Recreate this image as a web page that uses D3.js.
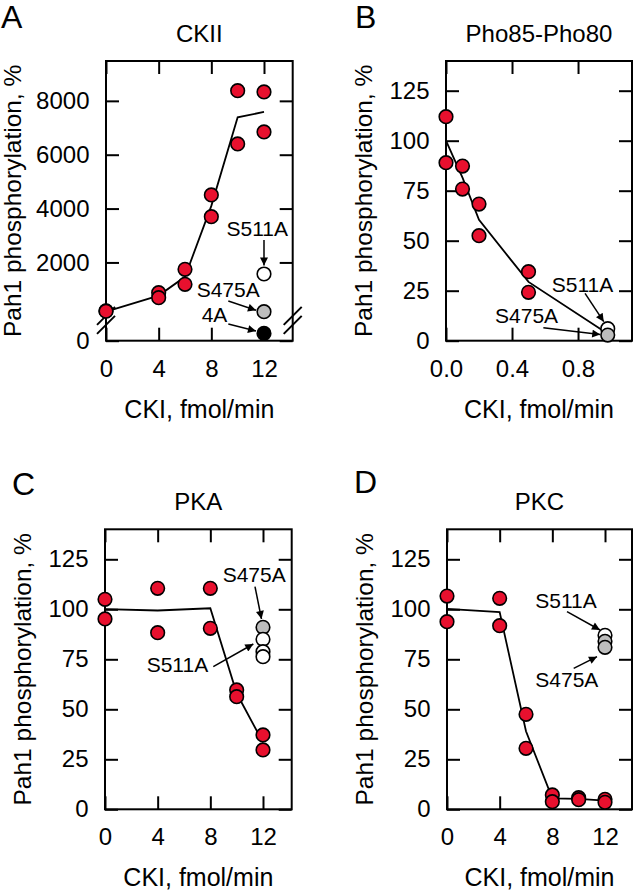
<!DOCTYPE html>
<html><head><meta charset="utf-8">
<script src="https://cdn.jsdelivr.net/npm/d3@7"></script>
<style>
html,body{margin:0;padding:0;background:#fff;}
svg text{font-family:"Liberation Sans",Arial,Helvetica,sans-serif;fill:#000;}
</style></head>
<body>
<svg id="chart" width="634" height="890"></svg>
<script>
// ---------------- data ----------------
const doseTicks = [0, 4, 8, 12];
const pctTicks = [0, 25, 50, 75, 100, 125];
const ckiiTicks = [0, 2000, 4000, 6000, 8000];
const phoTicks = [0.0, 0.4, 0.8];

// Panel A: CKII
const aDose = [0, 0, 4, 4, 6, 6, 8, 8, 10, 10, 12, 12];
const aWT = [200, 190, 876, 690, 1745, 1188, 4505, 3699, 8379, 6400, 8331, 6845];
const aLineDose = [0, 4, 6, 8, 10, 12];
const aLineVal = [175, 770, 1466, 4100, 7390, 7588];
const aMutDose = [12, 12, 12];
const aMutVal = [1571, 170, 27];
const aMutFill = ["#ffffff", "#bdbdbd", "#000000"];

// Panel B: Pho85-Pho80
const bDose = [0, 0, 0.1, 0.1, 0.2, 0.2, 0.5, 0.5];
const bWT = [112, 89, 87.3, 75.8, 68.3, 52.5, 34.5, 24.2];
const bLineDose = [0, 0.1, 0.2, 0.5, 0.98];
const bLineVal = [100, 81.5, 60.4, 29.4, 3.5];
const bMutDose = [0.98, 0.98];
const bMutVal = [6, 2.8];
const bMutFill = ["#ffffff", "#bdbdbd"];

// Panel C: PKA
const cDose = [0, 0, 4, 4, 8, 8, 10, 10, 12, 12];
const cWT = [105, 95.2, 110.5, 88.3, 110.5, 90.5, 59.7, 56.3, 37.2, 29.7];
const cLineDose = [0, 4, 8, 10, 12];
const cLineVal = [100.1, 99.4, 100.5, 58, 33.5];
const cMutDose = [12, 12, 12, 12];
const cMutVal = [91, 85, 78.8, 76.3];
const cMutFill = ["#bdbdbd", "#ffffff", "#ffffff", "#ffffff"];

// Panel D: PKC
const dDose = [0, 0, 4, 4, 6, 6, 8, 8, 10, 10, 12, 12];
const dWT = [106.6, 93.8, 105.5, 91.8, 47.5, 30.5, 7.2, 3.8, 5.8, 4.8, 5, 3.5];
const dLineDose = [0, 4, 6, 8, 10, 12];
const dLineVal = [100.2, 98.6, 39, 5.5, 5.2, 4.3];
const dMutDose = [12, 12, 12];
const dMutVal = [87, 84, 81];
const dMutFill = ["#ffffff", "#bdbdbd", "#bdbdbd"];

const RED = "#e8102e";

// ---------------- drawing ----------------
const svg = d3.select("#chart");
svg.append("rect").attr("width", 634).attr("height", 890).attr("fill", "#fff");
const defs = svg.append("defs");
defs.append("marker").attr("id", "ah").attr("viewBox", "0 0 10 10")
  .attr("refX", 10).attr("refY", 5).attr("markerWidth", 10).attr("markerHeight", 8)
  .attr("markerUnits", "userSpaceOnUse").attr("orient", "auto")
  .append("path").attr("d", "M0,0 L10,5 L0,10 z").attr("fill", "#000");

function panel(o) {
  const g = svg.append("g");
  const x = d3.scaleLinear().domain(o.xDomain).range([o.left, o.right]);
  const y = o.y;
  const T = 13;
  const fmtX = o.xFmt || (d => d);
  const ax = g.append("g").attr("transform", `translate(0,${o.bottom})`)
    .call(d3.axisBottom(x).tickValues(o.xTicks).tickSize(-T).tickSizeOuter(0).tickPadding(19).tickFormat(fmtX));
  const axT = g.append("g").attr("transform", `translate(0,${o.top})`)
    .call(d3.axisTop(x).tickValues(o.xTicks).tickSize(-T).tickSizeOuter(0).tickFormat(""));
  const ay = g.append("g").attr("transform", `translate(${o.left},0)`)
    .call(d3.axisLeft(y).tickValues(o.yTicks).tickSize(-T).tickSizeOuter(0).tickPadding(16.5).tickFormat(d => d));
  const ayR = g.append("g").attr("transform", `translate(${o.right},0)`)
    .call(d3.axisRight(y).tickValues(o.yTicks).tickSize(-T).tickSizeOuter(0).tickFormat(""));
  [ax, axT, ay, ayR].forEach(a => {
    a.select(".domain").remove();
    a.selectAll("line").attr("stroke", "#000").attr("stroke-width", 2);
    a.selectAll("text").attr("font-size", 24).attr("font-family", "'Liberation Sans',Arial,sans-serif").attr("fill", "#000");
  });
  g.append("rect").attr("x", o.left).attr("y", o.top)
    .attr("width", o.right - o.left).attr("height", o.bottom - o.top)
    .attr("fill", "none").attr("stroke", "#000").attr("stroke-width", 2);

  const line = d3.line().x(d => x(d[0])).y(d => y(d[1]));
  g.append("path").datum(o.lineDose.map((d, i) => [d, o.lineVal[i]]))
    .attr("d", line).attr("fill", "none").attr("stroke", "#000").attr("stroke-width", 1.8);

  if (o.breakAt !== undefined) {
    const by = y(o.breakAt);
    [o.left, o.right].forEach(bx => {
      [-4.5, 4.5].forEach(off => {
        g.append("line")
          .attr("x1", bx - 9).attr("y1", by + off + 9)
          .attr("x2", bx + 9).attr("y2", by + off - 9)
          .attr("stroke", "#000").attr("stroke-width", 2);
      });
    });
  }

  g.selectAll("circle.wt").data(o.dose.map((d, i) => [d, o.wt[i]])).enter()
    .append("circle").attr("class", "wt")
    .attr("cx", d => x(d[0])).attr("cy", d => y(d[1])).attr("r", 6.8)
    .attr("fill", RED).attr("stroke", "#000").attr("stroke-width", 1.6);
  g.selectAll("circle.mut").data(o.mutDose.map((d, i) => [d, o.mutVal[i], o.mutFill[i]])).enter()
    .append("circle").attr("class", "mut")
    .attr("cx", d => x(d[0])).attr("cy", d => y(d[1])).attr("r", 6.8)
    .attr("fill", d => d[2]).attr("stroke", "#000").attr("stroke-width", 1.6);

  o.notes.forEach(n => {
    const px = x(o.mutDose[n.i]), py = y(o.mutVal[n.i]);
    g.append("text").attr("x", px + n.t[0]).attr("y", py + n.t[1])
      .attr("font-size", 21).text(n.label);
    g.append("line").attr("x1", px + n.a[0]).attr("y1", py + n.a[1])
      .attr("x2", px + n.a[2]).attr("y2", py + n.a[3])
      .attr("stroke", "#000").attr("stroke-width", 1.5).attr("marker-end", "url(#ah)");
  });

  const cx = (o.left + o.right) / 2, cy = (o.top + o.bottom) / 2;
  g.append("text").attr("x", cx).attr("y", o.top - 19.5).attr("text-anchor", "middle")
    .attr("font-size", 24).text(o.title);
  g.append("text").attr("x", cx).attr("y", o.bottom + 77).attr("text-anchor", "middle")
    .attr("font-size", 25).text("CKI, fmol/min");
  g.append("text").attr("transform", `translate(${o.yTitleX},${cy}) rotate(-90)`)
    .attr("text-anchor", "middle").attr("font-size", 24.5).text("Pah1 phosphorylation, %");
  g.append("text").attr("x", o.letter[1]).attr("y", o.letter[2])
    .attr("font-size", 32).text(o.letter[0]);
}

panel({
  left: 106, right: 292.7, top: 61, bottom: 340.7,
  xDomain: [0, 14.18], xTicks: doseTicks,
  y: d3.scaleLinear().domain([0, 100, 9480]).range([340.7, 313.6, 61]),
  yTicks: ckiiTicks, breakAt: 75,
  dose: aDose, wt: aWT, lineDose: aLineDose, lineVal: aLineVal,
  mutDose: aMutDose, mutVal: aMutVal, mutFill: aMutFill,
  notes: [
    {i: 0, label: "S511A", t: [-37.5, -38], a: [0, -34, 0, -8.5]},
    {i: 1, label: "S475A", t: [-67.3, -15], a: [-35.7, -10.7, -8, -1.5]},
    {i: 2, label: "4A", t: [-62.3, -11.6], a: [-35.7, -9.3, -8, -2.3]}
  ],
  title: "CKII", yTitleX: 21, letter: ["A", 1, 27.5]
});

panel({
  left: 446, right: 632, top: 61, bottom: 340.7,
  xDomain: [0, 1.127], xTicks: phoTicks, xFmt: d3.format(".1f"),
  y: d3.scaleLinear().domain([0, 140]).range([340.7, 60.7]),
  yTicks: pctTicks,
  dose: bDose, wt: bWT, lineDose: bLineDose, lineVal: bLineVal,
  mutDose: bMutDose, mutVal: bMutVal, mutFill: bMutFill,
  notes: [
    {i: 0, label: "S511A", t: [-56, -37], a: [-22.7, -35.4, -4, -7]},
    {i: 1, label: "S475A", t: [-112.7, -11.8], a: [-64.4, -7.4, -7.5, -0.5]}
  ],
  title: "Pho85-Pho80", yTitleX: 372, letter: ["B", 355, 27.5]
});

panel({
  left: 105, right: 291.7, top: 529.3, bottom: 809.3,
  xDomain: [0, 14.18], xTicks: doseTicks,
  y: d3.scaleLinear().domain([0, 140]).range([809.3, 529.3]),
  yTicks: pctTicks,
  dose: cDose, wt: cWT, lineDose: cLineDose, lineVal: cLineVal,
  mutDose: cMutDose, mutVal: cMutVal, mutFill: cMutFill,
  notes: [
    {i: 0, label: "S475A", t: [-40.3, -45.6], a: [-8, -40.6, -1.5, -8.3]},
    {i: 1, label: "S511A", t: [-116.3, 32.4], a: [-49.7, 27.4, -9.7, 4.7]}
  ],
  title: "PKA", yTitleX: 31, letter: ["C", 12, 495]
});

panel({
  left: 447, right: 632, top: 529.3, bottom: 809.3,
  xDomain: [0, 14.05], xTicks: doseTicks,
  y: d3.scaleLinear().domain([0, 140]).range([809.3, 529.3]),
  yTicks: pctTicks,
  dose: dDose, wt: dWT, lineDose: dLineDose, lineVal: dLineVal,
  mutDose: dMutDose, mutVal: dMutVal, mutFill: dMutFill,
  notes: [
    {i: 0, label: "S511A", t: [-69.7, -27], a: [-38, -23.6, -5, -5.3]},
    {i: 2, label: "S475A", t: [-69.7, 39.4], a: [-31.3, 21, -8, 9.4]}
  ],
  title: "PKC", yTitleX: 373, letter: ["D", 354, 493]
});
</script>
</body></html>
